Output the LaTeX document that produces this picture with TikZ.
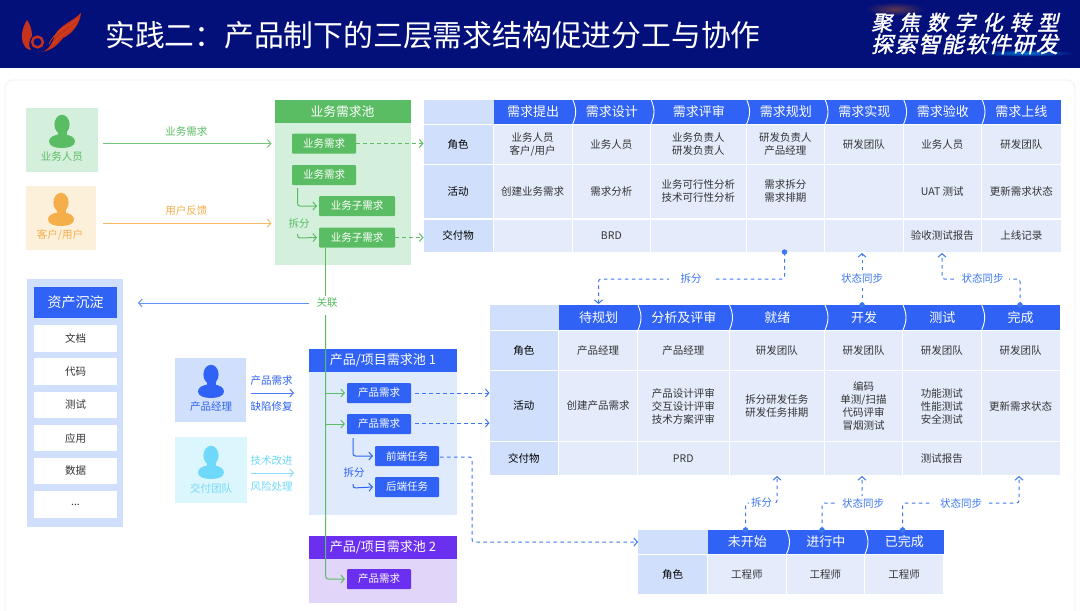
\documentclass[tikz,border=0pt]{standalone}
\usepackage{fontspec}
\setmainfont{Noto Sans CJK SC}
\newfontfamily\slogan[FakeSlant=0.22,FakeBold=1.5]{Noto Sans CJK SC}
\usetikzlibrary{arrows.meta,calc}
\definecolor{navy}{HTML}{03107A}
\definecolor{bandblue}{HTML}{2F62F5}
\definecolor{headcell}{HTML}{D0DFFB}
\definecolor{bodycell}{HTML}{E4ECFC}
\definecolor{linkblue}{HTML}{3D78F0}
\definecolor{bizgreen}{HTML}{5BBD63}
\definecolor{paleGreen}{HTML}{D4F0DD}
\definecolor{custorange}{HTML}{F4AE4A}
\definecolor{paleOrange}{HTML}{FDF0DA}
\definecolor{teamcyan}{HTML}{6FD8FB}
\definecolor{paleCyan}{HTML}{DCF6FE}
\definecolor{paleBlue}{HTML}{DFEAFC}
\definecolor{poolviolet}{HTML}{6B2FF0}
\definecolor{paleViolet}{HTML}{E1D5FA}
\definecolor{celltext}{HTML}{333333}
\definecolor{flame}{HTML}{C7321D}
\tikzset{
  barb/.style={-{Straight Barb[length=3.5pt,width=8pt,line width=1pt]}},
  flowline/.style={line width=1pt,barb},
  rounded/.style={rounded corners=2.5pt},
  linkdash/.style={draw=linkblue,line width=1pt,dash pattern=on 3.5pt off 3.5pt,rounded corners=2.5pt},
  linkstart/.style={fill=linkblue,circle,inner sep=0pt,minimum size=5.5pt},
  linkword/.style={text=linkblue,font=\fontsize{10.5}{12}\selectfont,fill=white,inner sep=2pt},
  rect/.style={inner sep=0pt,outer sep=0pt,align=center,text=celltext,font=\fontsize{10.5}{13}\selectfont},
  band/.style={rect,fill=bandblue,text=white,font=\fontsize{13}{15}\selectfont},
  corner/.style={rect,fill=headcell},
  sidecell/.style={rect,fill=headcell,text=black,font=\fontsize{10.5}{13}\selectfont},
  cell/.style={rect,fill=bodycell},
  itembox/.style={rect,text=white,rounded corners=1pt},
  word/.style={inner sep=0pt,font=\fontsize{10.5}{13}\selectfont},
}
% a box given by its corners: \bx{style}{name}{x1}{y1}{x2}{y2}{text}
\newcommand{\bx}[7]{\node[#1,minimum width={(#5-#3)*1pt},minimum height={(#6-#4)*1pt}] (#2) at ({(#3+#5)/2},{(#4+#6)/2}) {#7};}
% head and shoulders figure centred on x, with the top of the head at y
\newcommand{\personfig}[3]{%
  \fill[#3] (#1,#2+9.5) ellipse[x radius=7.6,y radius=9.7];
  \fill[#3] (#1-4.5,#2+14) rectangle (#1+4.5,#2+21);
  \fill[#3] (#1-13,#2+26.5) .. controls (#1-13,#2+22) and (#1-8,#2+20.5) .. (#1-4,#2+19.5)
    -- (#1+4,#2+19.5) .. controls (#1+8,#2+20.5) and (#1+13,#2+22) .. (#1+13,#2+26.5)
    .. controls (#1+13,#2+31) and (#1+7,#2+33) .. (#1,#2+33)
    .. controls (#1-7,#2+33) and (#1-13,#2+31) .. (#1-13,#2+26.5) -- cycle;}
% separators that give the header band its chevron look
\newcommand{\chev}[3]{\draw[white,line width=0.9pt] (#1,#2) .. controls (#1+4,{(#2+#3)/2-3}) and (#1+4,{(#2+#3)/2+3}) .. (#1,#3);}
\begin{document}
\begin{tikzpicture}[x=1pt,y=-1pt]
\useasboundingbox (0,0) rectangle (1080,611);
\fill[white] (0,0) rectangle (1080,611);
\draw[black!6,line width=0.8pt,rounded corners=8pt] (5,80) -- (1075,80) -- (1075,640) -- (5,640) -- cycle;

% title bar
\fill[navy] (0,0) rectangle (1080,68);
\shade[inner color=orange!35!navy,outer color=navy,draw=none] (895,9) ellipse[x radius=30,y radius=7];
\shade[inner color=blue!35!cyan!70!navy,outer color=navy,draw=none] (1026,53) ellipse[x radius=48,y radius=3.5];
\node[anchor=west,text=white,inner sep=0pt,font=\fontsize{29.8}{32}\selectfont] (title) at (105,35) {实践二：产品制下的三层需求结构促进分工与协作};
\node[anchor=west,text=white,inner sep=0pt,font=\fontsize{21}{24}\selectfont] (slogan1) at (871,22.5) {\slogan\addfontfeature{LetterSpace=32}聚焦数字化转型};
\node[anchor=west,text=white,inner sep=0pt,font=\fontsize{22}{24}\selectfont] (slogan2) at (871,44) {\slogan\addfontfeature{LetterSpace=7}探索智能软件研发};

% emblem: flame, ring and wing
\fill[flame] (27,20) .. controls (22,28) and (20,38) .. (24,45) .. controls (26,49) and (29,50) .. (31,50)
  .. controls (28,46) and (29,40) .. (32,36) .. controls (32,30) and (30,24) .. (27,20) -- cycle;
\draw[flame,line width=2.4pt] (37.5,42) circle[radius=5.4];
\fill[flame] (37,52) .. controls (48,53) and (52,44) .. (55,35) .. controls (60,25) and (72,22) .. (81,13)
  .. controls (80,24) and (72,34) .. (63,38) .. controls (58,44) and (52,52) .. (37,52) -- cycle;
\draw[flame!70!orange,line width=0.7pt] (49,44) .. controls (54,32) and (66,28) .. (78,19);
\draw[flame!70!orange,line width=0.7pt] (53,44) .. controls (58,36) and (68,32) .. (76,24);

% people on the left
\bx{rect,fill=paleGreen}{bizuser}{26}{108}{98}{172}{}
\personfig{62}{115}{bizgreen}
\node[word,text=bizgreen] (bizuserlabel) at (62,157) {业务人员};
\bx{rect,fill=paleOrange}{custuser}{26}{186}{96}{250}{}
\personfig{61}{193}{custorange}
\node[word,text=custorange] (custuserlabel) at (60,235) {客户/用户};
\bx{rect,fill=headcell}{pm}{175}{358}{246}{422}{}
\personfig{211}{365}{bandblue}
\node[word,text=bandblue] (pmlabel) at (211,407) {产品经理};
\bx{rect,fill=paleCyan}{team}{175}{437}{247}{503}{}
\personfig{211}{446}{teamcyan}
\node[word,text=teamcyan] (teamlabel) at (211,488) {交付团队};

% business demand pool
\bx{rect,fill=paleGreen}{bizbody}{274.5}{123}{410.5}{265}{}
\bx{rect,fill=bizgreen,text=white,font=\fontsize{12.8}{15}\selectfont}{bizhead}{274.5}{99.5}{410.5}{123}{业务需求池}
\bx{itembox,fill=bizgreen}{bizA}{292}{133.5}{356}{153.5}{业务需求}
\bx{itembox,fill=bizgreen}{bizB}{292}{165}{356}{185}{业务需求}
\bx{itembox,fill=bizgreen}{bizC}{319}{196}{395}{216}{业务子需求}
\bx{itembox,fill=bizgreen}{bizD}{319}{227.5}{395}{247.5}{业务子需求}
\node[word,text=bizgreen] (bizsplit) at (299,224) {拆分};
\coordinate (bizstem) at (297.5,188);
\draw[bizgreen,flowline,rounded] (bizstem) -- (bizstem |- bizC.west) -- ([xshift=-2pt]bizC.west);
\draw[bizgreen,flowline,rounded] (297.5,234) -- (297.5,238) -- ([xshift=-2pt]bizD.west);

% asset panel
\bx{rect,fill=headcell}{assets}{27}{279}{123}{527}{}
\bx{rect,fill=bandblue,text=white,font=\fontsize{14}{16}\selectfont}{assethead}{34}{287}{117}{318}{资产沉淀}
\begin{scope}[every node/.append style={text=bandblue}]
\bx{rect,fill=white}{asset1}{34}{325}{117}{352}{文档}
\bx{rect,fill=white}{asset2}{34}{358}{117}{385}{代码}
\bx{rect,fill=white}{asset3}{34}{392}{117}{418}{测试}
\bx{rect,fill=white}{asset4}{34}{425}{117}{451}{应用}
\bx{rect,fill=white}{asset5}{34}{458}{117}{484}{数据}
\bx{rect,fill=white}{asset6}{34}{491}{117}{518}{\raisebox{-3pt}{...}}
\end{scope}

% product / project pools
\bx{rect,fill=paleBlue}{pool1body}{309}{372}{457}{515}{}
\bx{rect,fill=bandblue,text=white,font=\fontsize{13}{15}\selectfont}{pool1}{309}{349}{457}{372}{产品/项目需求池 1}
\bx{rect,fill=paleViolet}{pool2body}{309}{559}{457}{603}{}
\bx{rect,fill=poolviolet,text=white,font=\fontsize{13}{15}\selectfont}{pool2}{309}{536}{457}{559}{产品/项目需求池 2}
\bx{itembox,fill=bandblue}{prodA}{347}{383}{411}{403}{产品需求}
\bx{itembox,fill=bandblue}{prodB}{347}{414}{411}{434}{产品需求}
\bx{itembox,fill=bandblue}{front}{375}{446}{439}{466}{前端任务}
\bx{itembox,fill=bandblue}{back}{375}{477}{439}{497}{后端任务}
\bx{itembox,fill=poolviolet}{prodC}{347}{569}{411}{589}{产品需求}
\node[word,text=bandblue] (poolsplit) at (354,473) {拆分};
\coordinate (poolstem) at (353,438);
\draw[bandblue,flowline,rounded] (poolstem) -- (poolstem |- front.west) -- ([xshift=-2pt]front.west);
\draw[bandblue,flowline,rounded] (353,484) -- (353,488) -- ([xshift=-2pt]back.west);

% demand table
\def\Xa{423.5}\def\Xb{493.5}\def\Xc{572.7}\def\Xd{651}\def\Xe{746.6}\def\Xf{825}\def\Xg{903.6}\def\Xh{982}\def\Xi{1060.7}
\bx{corner}{t1corner}{\Xa}{99.5}{\Xb}{124}{}
\bx{band}{t1h1}{\Xb}{99.5}{\Xc}{124}{需求提出}
\bx{band}{t1h2}{\Xc}{99.5}{\Xd}{124}{需求设计}
\bx{band}{t1h3}{\Xd}{99.5}{\Xe}{124}{需求评审}
\bx{band}{t1h4}{\Xe}{99.5}{\Xf}{124}{需求规划}
\bx{band}{t1h5}{\Xf}{99.5}{\Xg}{124}{需求实现}
\bx{band}{t1h6}{\Xg}{99.5}{\Xh}{124}{需求验收}
\bx{band}{t1h7}{\Xh}{99.5}{\Xi}{124}{需求上线}
\foreach \c in {\Xc,\Xd,\Xe,\Xf,\Xg,\Xh} {\chev{\c}{99.5}{124}}
\def\Ra{125}\def\Rb{164}\def\Rc{165}\def\Rd{218}\def\Re{219.5}\def\Rf{252}
\bx{sidecell}{t1role}{\Xa}{\Ra}{\Xb-1}{\Rb}{角色}
\bx{cell}{t1r1}{\Xb}{\Ra}{\Xc-1}{\Rb}{业务人员\\客户/用户}
\bx{cell}{t1r2}{\Xc}{\Ra}{\Xd-1}{\Rb}{业务人员}
\bx{cell}{t1r3}{\Xd}{\Ra}{\Xe-1}{\Rb}{业务负责人\\研发负责人}
\bx{cell}{t1r4}{\Xe}{\Ra}{\Xf-1}{\Rb}{研发负责人\\产品经理}
\bx{cell}{t1r5}{\Xf}{\Ra}{\Xg-1}{\Rb}{研发团队}
\bx{cell}{t1r6}{\Xg}{\Ra}{\Xh-1}{\Rb}{业务人员}
\bx{cell}{t1r7}{\Xh}{\Ra}{\Xi}{\Rb}{研发团队}
\bx{sidecell}{t1act}{\Xa}{\Rc}{\Xb-1}{\Rd}{活动}
\bx{cell}{t1a1}{\Xb}{\Rc}{\Xc-1}{\Rd}{创建业务需求}
\bx{cell}{t1a2}{\Xc}{\Rc}{\Xd-1}{\Rd}{需求分析}
\bx{cell}{t1a3}{\Xd}{\Rc}{\Xe-1}{\Rd}{业务可行性分析\\技术可行性分析}
\bx{cell}{t1a4}{\Xe}{\Rc}{\Xf-1}{\Rd}{需求拆分\\需求排期}
\bx{cell}{t1a5}{\Xf}{\Rc}{\Xg-1}{\Rd}{}
\bx{cell}{t1a6}{\Xg}{\Rc}{\Xh-1}{\Rd}{UAT 测试}
\bx{cell}{t1a7}{\Xh}{\Rc}{\Xi}{\Rd}{更新需求状态}
\bx{sidecell}{t1out}{\Xa}{\Re}{\Xb-1}{\Rf}{交付物}
\bx{cell}{t1o1}{\Xb}{\Re}{\Xc-1}{\Rf}{}
\bx{cell}{t1o2}{\Xc}{\Re}{\Xd-1}{\Rf}{BRD}
\bx{cell}{t1o3}{\Xd}{\Re}{\Xe-1}{\Rf}{}
\bx{cell}{t1o4}{\Xe}{\Re}{\Xf-1}{\Rf}{}
\bx{cell}{t1o5}{\Xf}{\Re}{\Xg-1}{\Rf}{}
\bx{cell}{t1o6}{\Xg}{\Re}{\Xh-1}{\Rf}{验收测试报告}
\bx{cell}{t1o7}{\Xh}{\Re}{\Xi}{\Rf}{上线记录}

% product table
\def\Ya{489.5}\def\Yb{559}\def\Yc{638}\def\Yd{729.5}\def\Ye{825}\def\Yf{903}\def\Yg{981.7}\def\Yh{1059.7}
\bx{corner}{t2corner}{\Ya}{305}{\Yb}{330}{}
\bx{band}{t2h1}{\Yb}{305}{\Yc}{330}{待规划}
\bx{band}{t2h2}{\Yc}{305}{\Yd}{330}{分析及评审}
\bx{band}{t2h3}{\Yd}{305}{\Ye}{330}{就绪}
\bx{band}{t2h4}{\Ye}{305}{\Yf}{330}{开发}
\bx{band}{t2h5}{\Yf}{305}{\Yg}{330}{测试}
\bx{band}{t2h6}{\Yg}{305}{\Yh}{330}{完成}
\foreach \c in {\Yc,\Yd,\Ye,\Yf,\Yg} {\chev{\c}{305}{330}}
\def\Sa{331}\def\Sb{370}\def\Sc{371}\def\Sd{441}\def\Se{442}\def\Sf{475}
\bx{sidecell}{t2role}{\Ya}{\Sa}{\Yb-1}{\Sb}{角色}
\bx{cell}{t2r1}{\Yb}{\Sa}{\Yc-1}{\Sb}{产品经理}
\bx{cell}{t2r2}{\Yc}{\Sa}{\Yd-1}{\Sb}{产品经理}
\bx{cell}{t2r3}{\Yd}{\Sa}{\Ye-1}{\Sb}{研发团队}
\bx{cell}{t2r4}{\Ye}{\Sa}{\Yf-1}{\Sb}{研发团队}
\bx{cell}{t2r5}{\Yf}{\Sa}{\Yg-1}{\Sb}{研发团队}
\bx{cell}{t2r6}{\Yg}{\Sa}{\Yh}{\Sb}{研发团队}
\bx{sidecell}{t2act}{\Ya}{\Sc}{\Yb-1}{\Sd}{活动}
\bx{cell}{t2a1}{\Yb}{\Sc}{\Yc-1}{\Sd}{创建产品需求}
\bx{cell}{t2a2}{\Yc}{\Sc}{\Yd-1}{\Sd}{产品设计评审\\交互设计评审\\技术方案评审}
\bx{cell}{t2a3}{\Yd}{\Sc}{\Ye-1}{\Sd}{拆分研发任务\\研发任务排期}
\bx{cell}{t2a4}{\Ye}{\Sc}{\Yf-1}{\Sd}{编码\\单测/扫描\\代码评审\\冒烟测试}
\bx{cell}{t2a5}{\Yf}{\Sc}{\Yg-1}{\Sd}{功能测试\\性能测试\\安全测试}
\bx{cell}{t2a6}{\Yg}{\Sc}{\Yh}{\Sd}{更新需求状态}
\bx{sidecell}{t2out}{\Ya}{\Se}{\Yb-1}{\Sf}{交付物}
\bx{cell}{t2o1}{\Yb}{\Se}{\Yc-1}{\Sf}{}
\bx{cell}{t2o2}{\Yc}{\Se}{\Yd-1}{\Sf}{PRD}
\bx{cell}{t2o3}{\Yd}{\Se}{\Ye-1}{\Sf}{}
\bx{cell}{t2o4}{\Ye}{\Se}{\Yf-1}{\Sf}{}
\bx{cell}{t2o5}{\Yf}{\Se}{\Yg-1}{\Sf}{测试报告}
\bx{cell}{t2o6}{\Yg}{\Se}{\Yh}{\Sf}{}

% task table
\bx{corner}{t3corner}{638}{530}{708}{554}{}
\bx{band}{t3h1}{708}{530}{786.5}{554}{未开始}
\bx{band}{t3h2}{786.5}{530}{865}{554}{进行中}
\bx{band}{t3h3}{865}{530}{943.5}{554}{已完成}
\foreach \c in {786.5,865} {\chev{\c}{530}{554}}
\bx{sidecell}{t3role}{638}{555}{707}{594}{角色}
\bx{cell}{t3r1}{708}{555}{785.5}{594}{工程师}
\bx{cell}{t3r2}{786.5}{555}{864}{594}{工程师}
\bx{cell}{t3r3}{865}{555}{943}{594}{工程师}

% connectors from people into pools
\draw[bizgreen!85,flowline] ([xshift=5pt]bizuser.east |- bizA) -- ([xshift=-3pt]bizhead.west |- bizA) node[pos=0.5,yshift=12pt,xshift=-1pt,word,text=bizgreen] (lblbiz) {业务需求};
\draw[custorange!85,flowline] ([xshift=7pt]custuser.east |- 0,223) -- ([xshift=-3pt]bizhead.west |- 0,223) node[pos=0.5,yshift=12pt,xshift=-1pt,word,text=custorange] (lblcust) {用户反馈};
\draw[bandblue!85,flowline] (251,393) -- ([xshift=-15pt]pool1.west |- prodA) node[pos=0.5,yshift=12pt,xshift=-1pt,word,text=bandblue] (lblprod) {产品需求} node[pos=0.5,yshift=-13pt,xshift=-1pt,word,text=bandblue] (lbldefect) {缺陷修复};
\draw[teamcyan!85,flowline] (251,473) -- ([xshift=-15pt]pool1.west |- 0,473) node[pos=0.5,yshift=12pt,xshift=-1pt,word,text=teamcyan] (lbltech) {技术改进} node[pos=0.5,yshift=-13pt,xshift=-1pt,word,text=teamcyan] (lblrisk) {风险处理};

% the link running from the business pool through the product pools
\coordinate (trunk) at (325.7,247.5);
\node[word,text=bizgreen] (linkword) at (327,303) {关联};
\draw[bizgreen,line width=1pt] (trunk) -- (trunk |- 0,296);
\draw[bizgreen,flowline,rounded] (trunk |- 0,315) -- (trunk |- prodC) -- ([xshift=-2pt]prodC.west);
\draw[bizgreen,flowline] (trunk |- prodA) -- ([xshift=-2pt]prodA.west);
\draw[bizgreen,flowline] (trunk |- prodB) -- ([xshift=-2pt]prodB.west);
\draw[linkblue!80,flowline] (linkword.west |- 0,303) ++(-7,0) -- ([xshift=15pt]assets.east |- 0,303);

% dashed links into the tables
\begin{scope}[line width=1pt,dash pattern=on 3.5pt off 3.5pt]
\draw[bizgreen,barb] (bizA.east) -- (t1role.west |- bizA);
\draw[bizgreen,barb] (bizD.east) -- (t1out.west |- bizD);
\draw[linkblue,barb] (prodA.east) ++(4,0) -- (t2act.west |- prodA);
\draw[linkblue,barb] (prodB.east) ++(4,-1) -- (t2act.west |- 0,423);
\draw[linkblue,barb,rounded] (front.east) ++(1,1) -- ++(32,0) -- (472,542) -- (t3corner.west);
\end{scope}

% status links between the tables
\node[linkstart] (d1) at (784.5,252) {};
\node[linkstart] (d2) at (862,305) {};
\node[linkstart] (d3) at (1020,305) {};
\node[linkstart] (d4) at (745.5,530) {};
\node[linkstart] (d5) at (822,530) {};
\node[linkstart] (d6) at (902.6,530) {};
\coordinate (u1) at (598.5,304);
\coordinate (u2) at (862,253);
\coordinate (u3) at (942,253);
\coordinate (u4) at (777,476);
\coordinate (u5) at (862,476);
\coordinate (u6) at (1019,476);
\draw[linkdash,barb] (d1.center) -- (784.5,279) -- (598.5,279) -- (u1);
\draw[linkdash,barb] (d2.center) -- (u2);
\draw[linkdash,barb] (d3.center) -- (1020,279) -- (942,279) -- (u3);
\draw[linkdash,barb] (d4.center) -- (745.5,503) -- (777,503) -- (u4);
\draw[linkdash,barb] (d5.center) -- (822,503) -- (862,503) -- (u5);
\draw[linkdash,barb] (d6.center) -- (902.6,503) -- (1019,503) -- (u6);
\node[linkword,inner xsep=12pt] (w1) at (691,278.5) {拆分};
\node[linkword,inner ysep=4pt] (w2) at (862,278.5) {状态同步};
\node[linkword,inner xsep=5pt] (w3) at (982.5,278.5) {状态同步};
\node[linkword] (w4) at (761.6,503) {拆分};
\node[linkword,inner xsep=6pt] (w5) at (863,503) {状态同步};
\node[linkword,inner xsep=7pt] (w6) at (961,503) {状态同步};
\end{tikzpicture}
\end{document}
